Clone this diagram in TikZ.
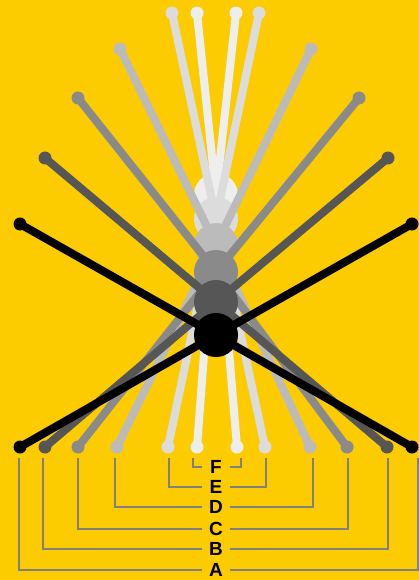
\documentclass[tikz,border=0pt]{standalone}
\usepackage{fontspec}
\setmainfont{Liberation Sans}
\usepackage{tikz}
\usetikzlibrary{positioning,calc}
\definecolor{bgyellow}{HTML}{FCCB00}
\definecolor{cA}{HTML}{000000}
\definecolor{cB}{HTML}{565656}
\definecolor{cC}{HTML}{8A8A8A}
\definecolor{cD}{HTML}{BBBBBB}
\definecolor{cE}{HTML}{DCDCDC}
\definecolor{cF}{HTML}{EEEEEE}
\definecolor{bracketgray}{HTML}{808080}

\begin{document}
\begin{tikzpicture}[
  x=1pt,y=-1pt,
  blade/.style={line width=8pt,line cap=round,line join=round},
  bracket/.style={draw=bracketgray,line width=1.2pt},
  lbl/.style={font=\fontsize{19}{19}\selectfont\bfseries,
    minimum width=28pt,inner sep=0pt,text height=13.6pt,text depth=0pt}
]
  % background
  \useasboundingbox (0,0) rectangle (419,580);
  \fill[bgyellow] (0,0) rectangle (419,580);

  % scissors pairs, lightest first
  \foreach \n/\col/\tl/\tr/\ty/\bl/\br/\py/\kl/\kr/\ly in {
    F/cF/197/236/13/197/237/195/193/241/467,
    E/cE/172/259/13/168/265/219/169/266/487,
    D/cD/120/311/49/117/310/245/115/313/507,
    C/cC/78/359/98/78/347/272/78/348/529,
    B/cB/45/388/158/45/387/302/43/388/549,
    A/cA/20/412/224/20/412/335/19/418/570}{
    \coordinate (tl-\n) at (\tl,\ty);
    \coordinate (tr-\n) at (\tr,\ty);
    \coordinate (bl-\n) at (\bl,447);
    \coordinate (br-\n) at (\br,447);
    \coordinate (pv-\n) at (216,\py);

    \draw[blade,draw=\col] (tl-\n) -- (pv-\n) -- (br-\n);
    \draw[blade,draw=\col] (tr-\n) -- (pv-\n) -- (bl-\n);
    \fill[\col] (pv-\n) circle (22pt);
    \foreach \p in {tl,tr,bl,br}{
      \fill[\col] (\p-\n) circle (6.5pt);
    }

    % label and bracket
    \coordinate (kl-\n) at (\kl,458);
    \coordinate (kr-\n) at (\kr,458);
    \node[lbl] (lbl-\n) at (216,\ly) {\n};
    \draw[bracket] (kl-\n) |- (lbl-\n.west);
    \draw[bracket] (kr-\n) |- (lbl-\n.east);
  }
\end{tikzpicture}
\end{document}
